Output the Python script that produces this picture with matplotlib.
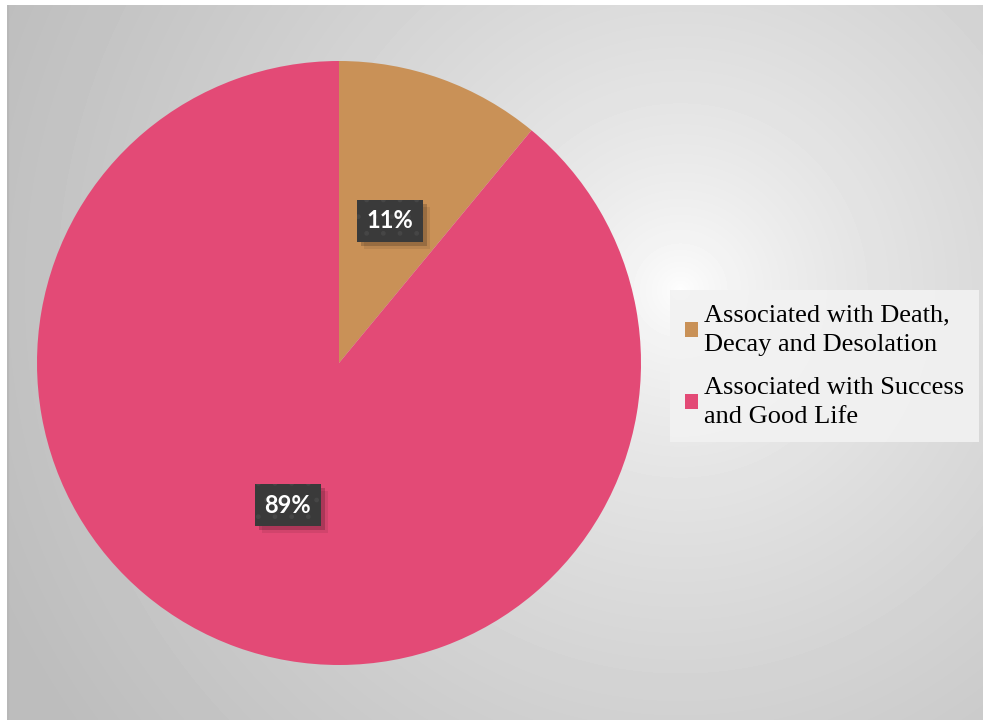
import numpy as np
import matplotlib
matplotlib.use('Agg')
import matplotlib.pyplot as plt
import matplotlib.patheffects as pe

# data
labels = ['Associated with Death,\nDecay and Desolation',
          'Associated with Success\nand Good Life']
values = [11, 89]
colors = ['#C99157', '#E34A76']

W, H = 983, 720
fig = plt.figure(figsize=(W / 100, H / 100), dpi=100, facecolor='white')

# radial gradient background
bg = fig.add_axes([7 / W, 0, (W - 7) / W, (H - 5) / H])
bg.set_axis_off()
yy, xx = np.mgrid[0:H - 5, 0:W - 7]
cx, cy = 680 - 7, 290 - 5
d = np.sqrt((xx - cx) ** 2 + (yy - cy) ** 2) / 750.0
shade = 1.0 - 0.26 * np.clip(d, 0, 1) ** 0.65
bg.imshow(shade, cmap='gray', vmin=0, vmax=1, aspect='auto',
          interpolation='bilinear', extent=[0, 1, 1, 0])
bg.set_xlim(0, 1)
bg.set_ylim(1, 0)
bg.axvline(0.001, color='#B8B8B8', linewidth=1.5)

# pie
cxp, cyp, r = 339, 363, 302
ax = fig.add_axes([(cxp - r) / W, (H - cyp - r) / H, 2 * r / W, 2 * r / H])
ax.set_axis_off()
wedges, _ = ax.pie(values, colors=colors, startangle=90, counterclock=False,
                   radius=1, wedgeprops=dict(linewidth=0))
ax.set_xlim(-1, 1)
ax.set_ylim(-1, 1)

plt.rcParams['hatch.color'] = '#464646'
plt.rcParams['hatch.linewidth'] = 1.0
total = sum(values)
start = 90.0
for v in values:
    frac = v / total
    mid = np.deg2rad(start - frac * 360 / 2)
    start -= frac * 360
    x, y = 0.5 * np.cos(mid), 0.5 * np.sin(mid)
    style = dict(ha='center', va='center', fontsize=17, fontweight='bold',
                 family=['Lato', 'DejaVu Sans'])
    # soft shadow under the label box
    s = ax.text(x, y, f'{v}%', color='none',
                bbox=dict(boxstyle='square,pad=0.4', facecolor='#3A3A3A',
                          linewidth=0), **style)
    s.get_bbox_patch().set_path_effects(
        [pe.SimplePatchShadow(offset=(3, -3), shadow_rgbFace='black', alpha=0.18),
         pe.SimplePatchShadow(offset=(5, -5), shadow_rgbFace='black', alpha=0.08)])
    ax.text(x, y, f'{v}%', color='white',
            bbox=dict(boxstyle='square,pad=0.4', facecolor='#3A3A3A',
                      edgecolor='#464646', linewidth=0, hatch='.'), **style)

leg = fig.legend(wedges, labels, loc='upper left',
                 bbox_to_anchor=(670 / W, 1 - 290 / H),
                 prop=dict(family='Liberation Serif', size=19),
                 frameon=True, fancybox=False, facecolor='#F2F2F2',
                 edgecolor='none', framealpha=0.9,
                 handlelength=0.5, handleheight=0.5, handletextpad=0.25,
                 borderpad=0.55, labelspacing=0.8, borderaxespad=0)
for t in leg.get_texts():
    t.set_linespacing(1.42)

fig.savefig('out.png', dpi=100, facecolor='white')
